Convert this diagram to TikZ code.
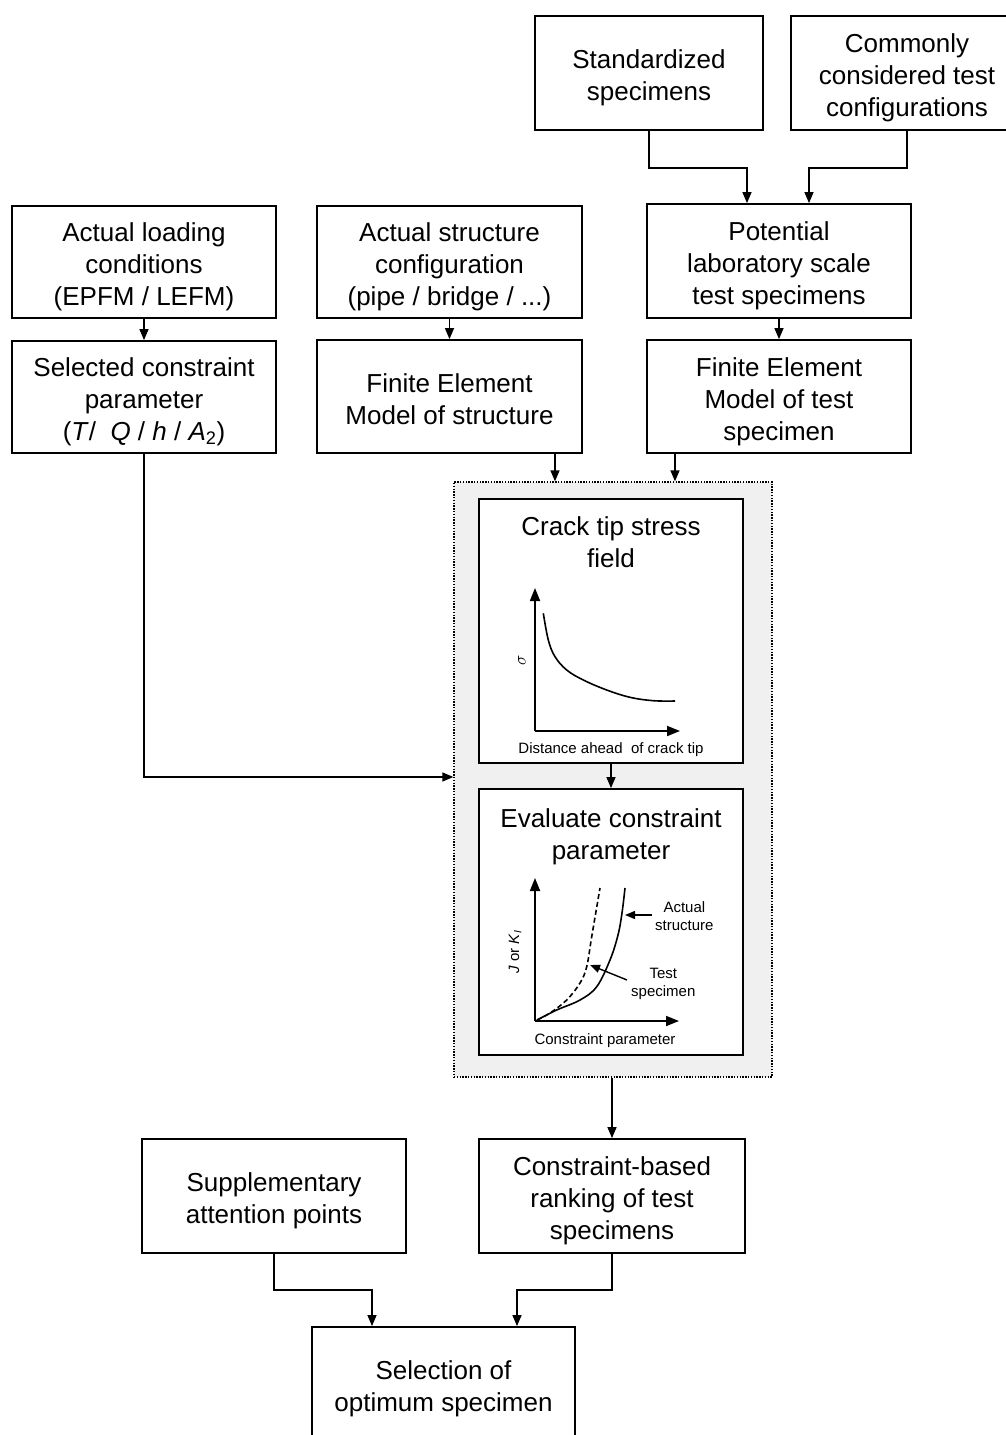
\documentclass[tikz,border=0pt]{standalone}
\usepackage{fontspec}
\setmainfont{Liberation Sans}
\usetikzlibrary{arrows.meta,calc}
\newcommand{\bt}[1]{\rule{0pt}{28.5pt}#1\rule[-5.5pt]{0pt}{5.5pt}}
\begin{document}
\begin{tikzpicture}[x=1pt,y=-1pt,
  box/.style={draw=black, line width=1.8pt, fill=white, align=center, inner sep=0pt, font=\fontsize{26}{32}\selectfont},
  conn/.style={line width=1.4pt, -{Triangle[length=11pt,width=9pt]}},
  axisline/.style={line width=1.8pt, -{Triangle[length=13pt,width=10pt]}},
  ann/.style={line width=1.4pt, -{Triangle[length=10pt,width=8pt]}},
  curve/.style={line width=1.6pt},
  small/.style={font=\fontsize{15}{18}\selectfont, inner sep=0pt, align=center},
  title/.style={font=\fontsize{26}{32}\selectfont, inner sep=0pt, align=center}]
\useasboundingbox (0,0) rectangle (1006,1435);
\clip (0,0) rectangle (1006,1435);
\fill[white] (0,0) rectangle (1006,1435);

% helper coordinates
\coordinate (xa) at (747,0);
\coordinate (xb) at (809,0);
\coordinate (xc) at (555,0);
\coordinate (xd) at (675,0);
\coordinate (xe) at (372,0);
\coordinate (xf) at (517,0);
\coordinate (yl) at (0,777);

% top row
\node[box, minimum width=228pt, minimum height=114pt] (std) at (649,73) {\bt{Standardized\\specimens}};
\node[box, minimum width=232pt, minimum height=114pt] (com) at (907,73) {\bt{Commonly\\considered test\\configurations}};

% second row
\node[box, minimum width=264pt, minimum height=112pt] (load) at (144,262) {\bt{Actual loading\\conditions\\(EPFM / LEFM)}};
\node[box, minimum width=265pt, minimum height=112pt] (struct) at (449.5,262) {\bt{Actual structure\\configuration\\(pipe / bridge / ...)}};
\node[box, minimum width=264pt, minimum height=114pt] (pot) at (779,261) {\bt{Potential\\laboratory scale\\test specimens}};

% third row
\node[box, minimum width=264pt, minimum height=112pt] (sel) at (144,397) {\bt{Selected constraint\\parameter\\(\textit{T}/~ \textit{Q} / \textit{h} / \textit{A}\textsubscript{2})}};
\node[box, minimum width=265pt, minimum height=113pt] (fes) at (449.5,396.5) {\bt{Finite Element\\Model of structure}};
\node[box, minimum width=264pt, minimum height=113pt] (fet) at (779,396.5) {\bt{Finite Element\\Model of test\\specimen}};

% grey group
\node[draw=black, dash pattern=on 1.4pt off 1.4pt, line width=1.3pt, fill=gray!12, minimum width=318pt, minimum height=595pt, inner sep=0pt] (grp) at (613,779.5) {};

% crack tip box
\node[box, minimum width=264pt, minimum height=264pt] (crack) at (611,631) {};
\node[title] (crackt) at (611,542) {Crack tip stress\\field};
\coordinate (o1) at (535,731);
\draw[axisline] (o1) -- ++(0,-143);
\draw[axisline] (o1) -- ++(145,0);
\draw[curve] plot[smooth, tension=0.6] coordinates {(543.3,613.3) (548.3,640) (555,656.7) (566.7,670) (583.3,680) (606.7,690) (630,697.3) (653.3,700.7) (675,701)};
\node[small, rotate=90, font=\fontsize{18}{20}\selectfont] (sig) at (522,660) {$\sigma$};
\node[small] (dlab) at (611,750) {Distance ahead~ of crack tip};

% evaluate box
\node[box, minimum width=264pt, minimum height=266pt] (eval) at (611,922) {};
\node[title] (evalt) at (611,837) {Evaluate constraint\\parameter};
\coordinate (o2) at (535,1021);
\draw[axisline] (o2) -- ++(0,-143);
\draw[axisline] (o2) -- ++(144,0);
\draw[curve, dash pattern=on 5pt off 3pt] plot[smooth, tension=0.6] coordinates {(537,1020) (550,1013) (566.7,1000) (580,983) (586.7,966.7) (591.7,936.7) (600,888)};
\draw[curve] plot[smooth, tension=0.6] coordinates {(537,1020) (556.7,1010) (580,1000) (596.7,986.7) (610,960) (618,935) (622,913) (625,888)};
\node[small, rotate=90] (jlab) at (515,952) {\textit{J} or \textit{K}\textsubscript{\textit{I}}};
\node[small] (clab) at (605,1041) {Constraint parameter};
\node[small, anchor=west] (lbla) at (655,916) {Actual\\structure};
\coordinate (ta) at (625,915);
\draw[ann] (lbla.west |- ta) ++(-3,0) -- (ta);
\node[small, anchor=west] (lblt) at (631,984) {Test\\specimen};
\coordinate (tt) at (590,965);
\draw[ann] ($(lblt.west)+(-4,-4)$) -- (tt);

% bottom
\node[box, minimum width=264pt, minimum height=114pt] (supp) at (274,1196) {\bt{Supplementary\\attention points}};
\node[box, minimum width=266pt, minimum height=114pt] (rank) at (612,1196) {\bt{Constraint-based\\ranking of test\\specimens}};
\node[box, minimum width=263pt, minimum height=114pt] (selopt) at (443.5,1384) {\bt{Selection of\\optimum specimen}};

% connectors
\draw[conn] (std.south) -- ++(0,37) -| (pot.north -| xa);
\draw[conn] (com.south) -- ++(0,37) -| (pot.north -| xb);
\draw[conn] (pot.south) -- (fet.north);
\draw[conn] (load.south) -- (sel.north);
\draw[conn] (struct.south) -- (fes.north);
\draw[conn] (fes.south -| xc) -- (grp.north -| xc);
\draw[conn] (fet.south -| xd) -- (grp.north -| xd);
\draw[conn] (sel.south) |- (grp.west |- yl);
\draw[conn] (crack.south) -- (eval.north);
\draw[conn] (grp.south -| rank.north) -- (rank.north);
\draw[conn] (supp.south) -- ++(0,36) -| (selopt.north -| xe);
\draw[conn] (rank.south) -- ++(0,36) -| (selopt.north -| xf);
\end{tikzpicture}
\end{document}
